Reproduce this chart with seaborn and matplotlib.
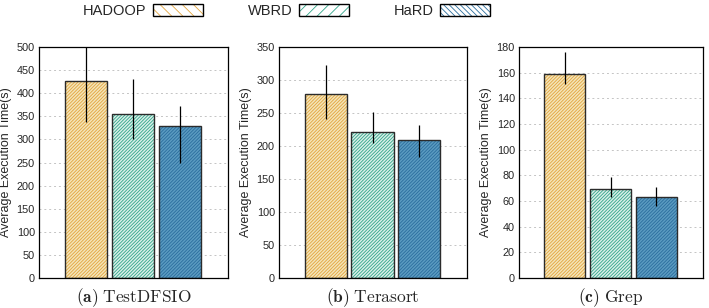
import numpy as np
import pandas as pd
import seaborn as sns
import matplotlib.pyplot as plt
from matplotlib.patches import Patch, Rectangle
from matplotlib.legend_handler import HandlerTuple

systems = ["HADOOP", "WBRD", "HaRD"]
panels = ["TestDFSIO", "Terasort", "Grep"]
letters = ["a", "b", "c"]

# mean execution time and error bar ends (low, high) for each panel
dfsio_mean = [427, 355, 330]
dfsio_low = [337, 300, 250]
dfsio_high = [500, 432, 372]

terasort_mean = [279, 222, 209]
terasort_low = [241, 205, 183]
terasort_high = [323, 252, 232]

grep_mean = [159, 69, 63]
grep_low = [151, 63, 56]
grep_high = [176, 79, 71]

ylims = [(0, 500), (0, 350), (0, 180)]
ysteps = [50, 50, 20]

face_colors = ["#fdeab0", "#d6f3ea", "#4a9fd2"]
hatch_colors = ["#e3a43c", "#2fa588", "#2a6d9c"]
legend_hatches = ["\\\\\\", "///", "\\\\\\\\\\\\"]

sns.set_style("white")
plt.rcParams["font.family"] = ["Liberation Sans", "DejaVu Sans"]
plt.rcParams["mathtext.fontset"] = "cm"
plt.rcParams["hatch.linewidth"] = 0.6

fig = plt.figure(figsize=(7.09, 3.08), dpi=100)
boxes = [(0.055, 0.0974, 0.2666, 0.7496),
         (0.3935, 0.0974, 0.2652, 0.7496),
         (0.732, 0.0974, 0.2595, 0.7496)]

data = [(dfsio_mean, dfsio_low, dfsio_high),
        (terasort_mean, terasort_low, terasort_high),
        (grep_mean, grep_low, grep_high)]

for i, (mean, low, high) in enumerate(data):
    ax = fig.add_axes(boxes[i])
    df = pd.DataFrame({"system": systems, "time": mean})
    sns.barplot(data=df, x="system", y="time", hue="system", order=systems,
                palette=face_colors, width=0.9, legend=False, ax=ax, zorder=2)
    # hatch takes the edge colour, so draw the dark outline on top
    for p, hc in zip(list(ax.patches), hatch_colors):
        p.set_hatch("/" * 10)
        p.set_edgecolor(hc)
        p.set_linewidth(0)
        ax.add_patch(Rectangle(p.get_xy(), p.get_width(), p.get_height(),
                               fill=False, edgecolor="#2b2b2b", linewidth=1.0, zorder=2.5))
    m = np.array(mean)
    yerr = [m - np.array(low), np.array(high) - m]
    ax.errorbar(range(3), m, yerr=yerr, fmt="none", ecolor="black",
                elinewidth=0.9, capsize=0, zorder=3)
    ax.set_xlim(-1, 3.02)
    ax.set_ylim(*ylims[i])
    ax.set_yticks(np.arange(ylims[i][0], ylims[i][1] + 1, ysteps[i]))
    ax.set_xticks([])
    ax.set_xlabel("")
    ax.set_ylabel("Average Execution Time(s)", fontsize=9, labelpad=3)
    ax.tick_params(axis="y", labelsize=7.8, length=2, pad=1)
    ax.yaxis.grid(True, linestyle=(0, (2, 3)), color="#c4c4c4", linewidth=0.7, zorder=0)
    ax.set_axisbelow(True)
    for s in ax.spines.values():
        s.set_color("black")
        s.set_linewidth(0.9)
    ax.text(0.5, -0.035, r"$\mathbf{(" + letters[i] + r")}$ $\mathrm{" + panels[i] + "}$",
            transform=ax.transAxes, ha="center", va="top", fontsize=12.5)

handles = []
for hc, h in zip(hatch_colors, legend_hatches):
    handles.append((Patch(facecolor="white", edgecolor=hc, hatch=h, linewidth=0),
                    Patch(fill=False, edgecolor="black", linewidth=1.0)))
leg = fig.legend(handles, systems, loc="center", bbox_to_anchor=(0.404, 0.965), ncol=3,
                 frameon=False, fontsize=10.5, markerfirst=False, handlelength=3.4,
                 handleheight=0.9, columnspacing=3.1, handletextpad=0.45,
                 handler_map={tuple: HandlerTuple(ndivide=1, pad=0)})

fig.savefig("out.png", dpi=100)
